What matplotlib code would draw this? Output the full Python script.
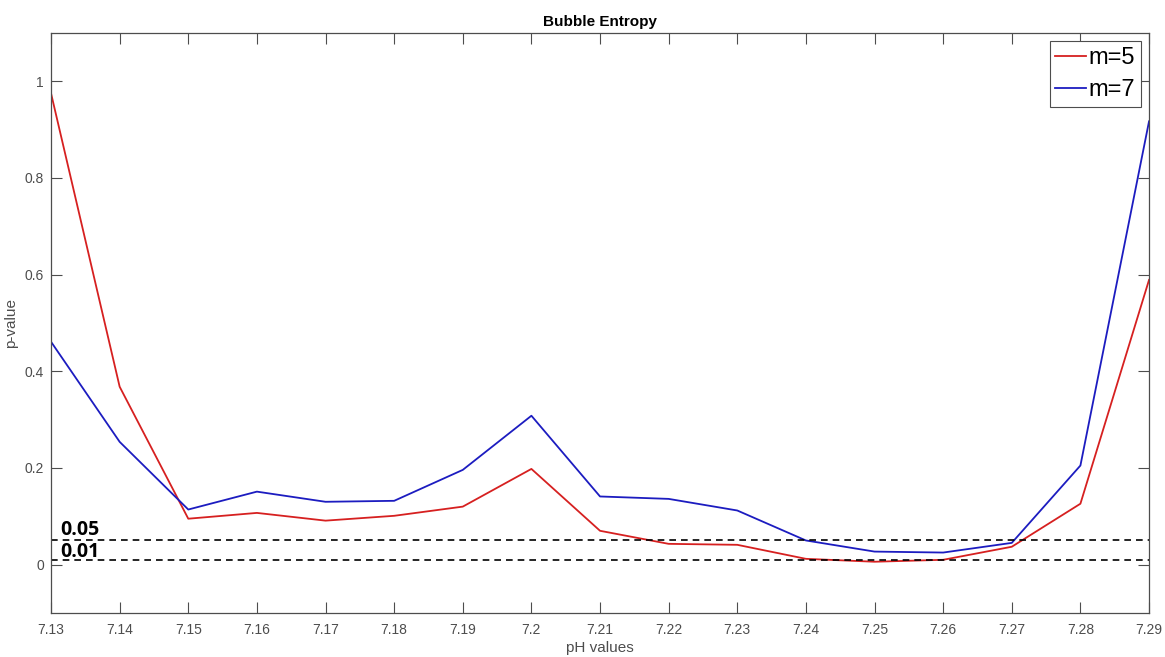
import matplotlib
matplotlib.use('Agg')
import matplotlib.pyplot as plt

plt.rcParams['font.family'] = ['Liberation Sans', 'DejaVu Sans']

# pH values on the x axis
ph = [7.13, 7.14, 7.15, 7.16, 7.17, 7.18, 7.19, 7.20, 7.21,
      7.22, 7.23, 7.24, 7.25, 7.26, 7.27, 7.28, 7.29]

# p-values for both embedding dimensions
p_m5 = [0.975, 0.368, 0.095, 0.107, 0.091, 0.101, 0.120, 0.198, 0.070,
        0.043, 0.041, 0.012, 0.006, 0.010, 0.037, 0.126, 0.589]
p_m7 = [0.461, 0.254, 0.114, 0.151, 0.130, 0.132, 0.196, 0.308, 0.141,
        0.136, 0.112, 0.050, 0.027, 0.025, 0.045, 0.205, 0.917]

thresholds = [0.05, 0.01]
xtick_labels = ['7.13', '7.14', '7.15', '7.16', '7.17', '7.18', '7.19', '7.2', '7.21',
                '7.22', '7.23', '7.24', '7.25', '7.26', '7.27', '7.28', '7.29']

grey = '#4d4d4d'

fig = plt.figure(figsize=(11.65, 6.57), dpi=100)
ax = fig.add_axes([0.0438, 0.067, 0.9425, 0.883])

ax.plot(ph, p_m5, color='#d62020', lw=1.3, label='m=5')
ax.plot(ph, p_m7, color='#1c1cc0', lw=1.3, label='m=7')

for t in thresholds:
    ax.axhline(t, color='black', ls=(0, (4, 3)), lw=1.2)
# labels sit just above each dashed line
ax.text(7.1313, 0.062, '0.05', fontsize=14, fontweight='bold', family='Open Sans')
ax.text(7.1313, 0.015, '0.01', fontsize=14, fontweight='bold', family='Open Sans')

ax.set_xlim(7.13, 7.29)
ax.set_ylim(-0.1, 1.1)
ax.set_xticks(ph)
ax.set_xticklabels(xtick_labels)
ax.set_yticks([0, 0.2, 0.4, 0.6, 0.8, 1])
ax.set_yticklabels(['0', '0.2', '0.4', '0.6', '0.8', '1'])
ax.tick_params(direction='in', top=True, right=True, length=8, width=0.8,
               color=grey, labelcolor=grey, labelsize=10)
ax.tick_params(axis='x', pad=7)
ax.tick_params(axis='y', pad=5)
for s in ax.spines.values():
    s.set_color(grey)
    s.set_linewidth(0.9)

ax.set_title('Bubble Entropy', fontsize=11, fontweight='bold', pad=5)
ax.set_xlabel('pH values', fontsize=11, color=grey, labelpad=3)
ax.set_ylabel('p-value', fontsize=11, color=grey, labelpad=5)

leg = ax.legend(loc='upper right', fontsize=17, fancybox=False, framealpha=1,
                handlelength=1.3, handletextpad=0.1, borderpad=0.25,
                labelspacing=0.45, borderaxespad=0.34)
leg.get_frame().set_edgecolor(grey)
leg.get_frame().set_linewidth(0.8)

fig.savefig('out.png', dpi=100)
